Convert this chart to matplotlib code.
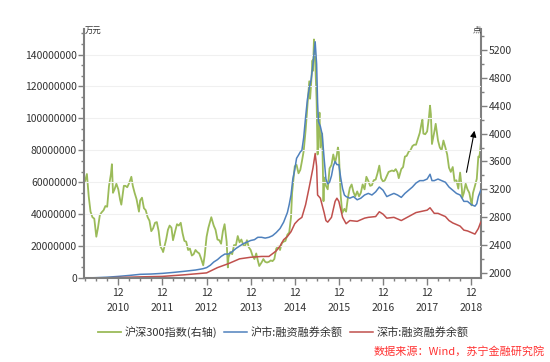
import matplotlib
matplotlib.use('Agg')
import matplotlib.pyplot as plt
import pandas as pd
from matplotlib.ticker import MultipleLocator, FuncFormatter

plt.rcParams['font.family'] = ['Noto Sans CJK SC', 'DejaVu Sans']

# ---------------- data ----------------
hs_dates = [
    "2010-03-31", "2010-04-15", "2010-04-30", "2010-05-15", "2010-05-31", "2010-06-15", "2010-07-02",
    "2010-07-15", "2010-07-31", "2010-08-15", "2010-08-31", "2010-09-15", "2010-09-30", "2010-10-15",
    "2010-10-31", "2010-11-08", "2010-11-17", "2010-11-30", "2010-12-15", "2010-12-31",
    "2011-01-15", "2011-01-25", "2011-02-15", "2011-02-28", "2011-03-15", "2011-03-31", "2011-04-18",
    "2011-04-30", "2011-05-15", "2011-05-31", "2011-06-20", "2011-06-30", "2011-07-15", "2011-07-31",
    "2011-08-15", "2011-08-31", "2011-09-15", "2011-09-30", "2011-10-15", "2011-10-31", "2011-11-15",
    "2011-11-30", "2011-12-15", "2011-12-31",
    "2012-01-06", "2012-01-31", "2012-02-15", "2012-02-29", "2012-03-15", "2012-03-28", "2012-04-15",
    "2012-04-30", "2012-05-15", "2012-05-31", "2012-06-15", "2012-06-30", "2012-07-15", "2012-07-31",
    "2012-08-15", "2012-08-31", "2012-09-15", "2012-09-30", "2012-10-15", "2012-10-31", "2012-11-15",
    "2012-12-03", "2012-12-15", "2012-12-31",
    "2013-01-15", "2013-01-31", "2013-02-08", "2013-02-28", "2013-03-15", "2013-03-31", "2013-04-15",
    "2013-04-30", "2013-05-15", "2013-05-29", "2013-06-15", "2013-06-25", "2013-06-30", "2013-07-15",
    "2013-07-31", "2013-08-15", "2013-08-31", "2013-09-15", "2013-09-30", "2013-10-15", "2013-10-31",
    "2013-11-15", "2013-11-30", "2013-12-15", "2013-12-31",
    "2014-01-15", "2014-01-31", "2014-02-15", "2014-02-28", "2014-03-12", "2014-03-31", "2014-04-15",
    "2014-04-30", "2014-05-15", "2014-05-31", "2014-06-15", "2014-06-30", "2014-07-15", "2014-07-31",
    "2014-08-15", "2014-08-31", "2014-09-15", "2014-09-30", "2014-10-15", "2014-10-31", "2014-11-15",
    "2014-11-30", "2014-12-09", "2014-12-31",
    "2015-01-15", "2015-01-31", "2015-02-15", "2015-02-28", "2015-03-15", "2015-03-31", "2015-04-15",
    "2015-04-30", "2015-05-07", "2015-05-15", "2015-05-27", "2015-05-31", "2015-06-08", "2015-06-15",
    "2015-06-30", "2015-07-08", "2015-07-15", "2015-07-24", "2015-07-31", "2015-08-15", "2015-08-26",
    "2015-08-31", "2015-09-15", "2015-09-30", "2015-10-15", "2015-10-31", "2015-11-15", "2015-11-30",
    "2015-12-15", "2015-12-23", "2015-12-31",
    "2016-01-15", "2016-01-28", "2016-02-15", "2016-02-29", "2016-03-15", "2016-03-31", "2016-04-15",
    "2016-04-30", "2016-05-15", "2016-05-31", "2016-06-15", "2016-06-30", "2016-07-15", "2016-07-31",
    "2016-08-15", "2016-08-31", "2016-09-15", "2016-09-30", "2016-10-15", "2016-10-31", "2016-11-15",
    "2016-11-30", "2016-12-15", "2016-12-31",
    "2017-01-15", "2017-01-31", "2017-02-15", "2017-02-28", "2017-03-15", "2017-03-31", "2017-04-15",
    "2017-04-30", "2017-05-10", "2017-05-31", "2017-06-15", "2017-06-30", "2017-07-15", "2017-07-31",
    "2017-08-15", "2017-08-31", "2017-09-15", "2017-09-30", "2017-10-15", "2017-10-31", "2017-11-15",
    "2017-11-22", "2017-11-30", "2017-12-15", "2017-12-31",
    "2018-01-15", "2018-01-24", "2018-01-31", "2018-02-09", "2018-02-28", "2018-03-12", "2018-03-31",
    "2018-04-15", "2018-04-30", "2018-05-15", "2018-05-31", "2018-06-15", "2018-06-30", "2018-07-15",
    "2018-07-31", "2018-08-15", "2018-08-31", "2018-09-15", "2018-09-30", "2018-10-15", "2018-10-18",
    "2018-10-31", "2018-11-15", "2018-11-30", "2018-12-15", "2018-12-31",
    "2019-01-03", "2019-01-15", "2019-01-31", "2019-02-15", "2019-02-28", "2019-03-08", "2019-03-15",
    "2019-03-20",
]
hs_vals = [
    3320, 3420, 3100, 2880, 2800, 2780, 2520,
    2640, 2830, 2870, 2900, 2960, 2950, 3250,
    3420, 3560, 3150, 3200, 3280, 3200,
    3050, 2980, 3250, 3250, 3230, 3290, 3380,
    3250, 3150, 3060, 2880, 3040, 3080, 2930,
    2900, 2800, 2750, 2600, 2640, 2720, 2730,
    2600, 2380, 2330,
    2300, 2480, 2620, 2680, 2650, 2470, 2600,
    2700, 2680, 2720, 2570, 2460, 2450, 2330,
    2350, 2250, 2270, 2330, 2300, 2280, 2210,
    2110, 2250, 2520,
    2650, 2750, 2800, 2680, 2620, 2480, 2470,
    2420, 2600, 2700, 2450, 2080, 2220, 2300,
    2270, 2400, 2400, 2530, 2440, 2480, 2400,
    2390, 2470, 2370, 2330,
    2250, 2200, 2280, 2180, 2100, 2150, 2200,
    2160, 2150, 2160, 2180, 2170, 2200, 2350,
    2380, 2330, 2430, 2450, 2460, 2550, 2580,
    2800, 3150, 3530,
    3550, 3430, 3480, 3600, 3750, 4050, 4400,
    4750, 4500, 4700, 5050, 4900, 5350, 5200,
    4470, 3700, 4000, 4300, 3800, 4000, 3030,
    3370, 3250, 3200, 3500, 3550, 3700, 3580,
    3700, 3800, 3730,
    3120, 2860, 2920, 2880, 3080, 3220, 3270,
    3160, 3100, 3170, 3100, 3150, 3270, 3200,
    3380, 3320, 3250, 3260, 3330, 3340, 3430,
    3540, 3360, 3310,
    3330, 3390, 3450, 3460, 3470, 3460, 3490,
    3440, 3360, 3490, 3520, 3670, 3680, 3740,
    3760, 3820, 3840, 3840, 3920, 4010, 4150,
    4200, 4000, 3990, 4030,
    4230, 4400, 4280, 3850, 4020, 4140, 3900,
    3800, 3760, 3900, 3800, 3700, 3510, 3450,
    3520, 3320, 3330, 3210, 3440, 3200, 3080,
    3150, 3280, 3200, 3150, 3010,
    2970, 3150, 3250, 3350, 3670, 3660, 3750,
    3850,
]

sh_dates = [
    "2010-03-31", "2010-06-30", "2010-09-30", "2010-12-31", "2011-03-31", "2011-06-30", "2011-09-30",
    "2011-12-31", "2012-03-31", "2012-06-30", "2012-09-30", "2012-11-30", "2012-12-31",
    "2013-01-31", "2013-02-28", "2013-03-31", "2013-04-30", "2013-05-31", "2013-06-30", "2013-07-31",
    "2013-08-31", "2013-09-30", "2013-10-31", "2013-11-30", "2013-12-31",
    "2014-01-31", "2014-02-28", "2014-03-31", "2014-04-30", "2014-05-31", "2014-06-30", "2014-07-31",
    "2014-08-31", "2014-09-30", "2014-10-31", "2014-11-15", "2014-11-30", "2014-12-15", "2014-12-31",
    "2015-01-15", "2015-01-31", "2015-02-15", "2015-02-28", "2015-03-15", "2015-03-31", "2015-04-15",
    "2015-04-30", "2015-05-15", "2015-05-31", "2015-06-18", "2015-06-30", "2015-07-08", "2015-07-15",
    "2015-07-31", "2015-08-15", "2015-08-31", "2015-09-15", "2015-09-30", "2015-10-15", "2015-10-31",
    "2015-11-15", "2015-11-30", "2015-12-15", "2015-12-31",
    "2016-01-15", "2016-01-31", "2016-02-15", "2016-02-29", "2016-03-31", "2016-04-30", "2016-05-31",
    "2016-06-30", "2016-07-31", "2016-08-31", "2016-09-30", "2016-10-31", "2016-11-30", "2016-12-31",
    "2017-01-31", "2017-02-28", "2017-03-31", "2017-04-30", "2017-05-31", "2017-06-30", "2017-07-31",
    "2017-08-31", "2017-09-30", "2017-10-31", "2017-11-30", "2017-12-31",
    "2018-01-24", "2018-02-09", "2018-02-28", "2018-03-31", "2018-04-30", "2018-05-31", "2018-06-30",
    "2018-07-31", "2018-08-31", "2018-09-30", "2018-10-31", "2018-11-30", "2018-12-31",
    "2019-01-31", "2019-02-15", "2019-02-28", "2019-03-20",
]
sh_vals = [
    0, 200000, 500000, 1000000, 1600000, 2300000, 2500000,
    2900000, 3500000, 4200000, 5000000, 5800000, 6500000,
    8000000, 10000000, 11500000, 13500000, 15000000, 15000000, 16500000,
    18500000, 20000000, 21500000, 22500000, 23500000,
    24000000, 25500000, 25500000, 25000000, 25500000, 26500000, 28500000,
    31000000, 35000000, 41000000, 46000000, 52000000, 62000000, 68000000,
    75000000, 77000000, 79000000, 80000000, 88000000, 101000000, 112000000,
    119000000, 124000000, 134000000, 148000000, 134000000, 110000000, 98000000,
    95000000, 90000000, 75000000, 62000000, 59000000, 60000000, 64000000,
    70000000, 73000000, 71000000, 71000000,
    63000000, 56000000, 52000000, 51000000, 50000000, 51000000, 49000000,
    50000000, 52000000, 53000000, 52000000, 54000000, 57000000, 55000000,
    51000000, 52000000, 53000000, 52000000, 50500000, 53000000, 55000000,
    57000000, 59500000, 61000000, 61000000, 62000000,
    65000000, 61000000, 61000000, 62000000, 61000000, 60000000, 57000000,
    55000000, 53000000, 52000000, 48000000, 48000000, 46000000,
    45000000, 46500000, 51000000, 55000000,
]

sz_dates = [
    "2010-03-31", "2010-06-30", "2010-09-30", "2010-12-31", "2011-06-30", "2011-12-31", "2012-06-30",
    "2012-12-31", "2013-03-31", "2013-06-30", "2013-09-30", "2013-12-31", "2014-03-31", "2014-05-31",
    "2014-07-31", "2014-08-31", "2014-09-30", "2014-10-31", "2014-11-30", "2014-12-31",
    "2015-01-31", "2015-02-28", "2015-03-31", "2015-04-30", "2015-05-31", "2015-06-18", "2015-06-30",
    "2015-07-08", "2015-07-31", "2015-08-31", "2015-09-15", "2015-09-30", "2015-10-31", "2015-11-30",
    "2015-12-15", "2015-12-31",
    "2016-01-31", "2016-02-29", "2016-03-31", "2016-05-31", "2016-07-31", "2016-08-31", "2016-10-31",
    "2016-11-30", "2016-12-31",
    "2017-01-31", "2017-03-31", "2017-05-31", "2017-07-31", "2017-09-30", "2017-11-30", "2017-12-31",
    "2018-01-24", "2018-02-28", "2018-03-31", "2018-04-30", "2018-05-31", "2018-06-30", "2018-07-31",
    "2018-08-31", "2018-09-30", "2018-10-31", "2018-11-30", "2018-12-31",
    "2019-01-31", "2019-02-28", "2019-03-20",
]
sz_vals = [
    0, 80000, 150000, 300000, 700000, 1000000, 2000000,
    3200000, 6500000, 9000000, 12000000, 13000000, 13500000, 13500000,
    17000000, 20000000, 24000000, 26000000, 29000000, 34000000,
    36500000, 38000000, 46000000, 57000000, 69000000, 78000000, 70000000,
    52000000, 50000000, 41000000, 36000000, 35000000, 38000000, 48000000,
    50000000, 48000000,
    38000000, 34000000, 36000000, 35500000, 37500000, 38000000, 38500000,
    41500000, 40000000,
    37500000, 38000000, 36000000, 38500000, 41000000, 42000000, 42500000,
    44000000, 40500000, 40500000, 39500000, 38500000, 36000000, 34500000,
    33500000, 32500000, 30000000, 29500000, 28500000,
    27500000, 31000000, 35000000,
]

years = [2010, 2011, 2012, 2013, 2014, 2015, 2016, 2017, 2018]
labels = ["沪深300指数(右轴)", "沪市:融资融券余额", "深市:融资融券余额"]
colors = ["#9BBB59", "#4F81BD", "#C0504D"]

# ---------------- plot ----------------
W, H = 550, 362
fig = plt.figure(figsize=(W / 100, H / 100), dpi=100)
L, R, B, T = 84, 481, 278, 29
ax = fig.add_axes([L / W, 1 - B / H, (R - L) / W, (B - T) / H])
ax2 = ax.twinx()
ax.set_zorder(ax2.get_zorder() + 1)
ax.patch.set_visible(False)

g, = ax2.plot(pd.to_datetime(hs_dates), hs_vals, color=colors[0], lw=1.3)
b, = ax.plot(pd.to_datetime(sh_dates), sh_vals, color=colors[1], lw=1.1)
r, = ax.plot(pd.to_datetime(sz_dates), sz_vals, color=colors[2], lw=1.1)

ax.set_xlim(pd.Timestamp("2010-03-22"), pd.Timestamp("2019-03-22"))
ax.set_ylim(0, 156e6)
ax2.set_ylim(1928, 5500)

spine_c = "#7f7f7f"
for a in (ax, ax2):
    a.spines["top"].set_visible(False)
ax.spines["right"].set_visible(False)
ax2.spines["left"].set_visible(False)
ax2.spines["bottom"].set_visible(False)
for s in (ax.spines["left"], ax.spines["bottom"], ax2.spines["right"]):
    s.set_color(spine_c)
    s.set_linewidth(1.5)

ax.yaxis.set_major_locator(MultipleLocator(20e6))
ax.yaxis.set_minor_locator(MultipleLocator(20e6 / 3))
ax.yaxis.set_major_formatter(FuncFormatter(lambda v, p: f"{int(round(v))}"))
ax2.yaxis.set_major_locator(MultipleLocator(400))
ax2.yaxis.set_minor_locator(MultipleLocator(200))

major_x = [pd.Timestamp(f"{y}-12-31") for y in years]
minor_x = [pd.Timestamp(f"{y}-{m:02d}-{d}") for y in years + [2019]
           for m, d in ((3, 31), (6, 30), (9, 30)) if pd.Timestamp(f"{y}-{m:02d}-{d}") < pd.Timestamp("2019-03-22")]
ax.set_xticks(major_x)
ax.set_xticklabels([f"12\n{y}" for y in years], linespacing=1.6)
ax.set_xticks(minor_x, minor=True)

tc = "#333333"
ax.tick_params(axis="x", which="major", length=5, width=1, color=spine_c, labelsize=7.5, labelcolor=tc, pad=2)
ax.tick_params(axis="x", which="minor", length=2.5, width=1, color=spine_c)
ax.tick_params(axis="y", which="major", length=4, width=1, color=spine_c, labelsize=7.5, labelcolor=tc, pad=1)
ax.tick_params(axis="y", which="minor", length=2.5, width=1, color=spine_c)
ax2.tick_params(axis="y", which="major", length=4, width=1, color=spine_c, labelsize=7.5, labelcolor=tc, pad=1.5)
ax2.tick_params(axis="y", which="minor", length=2.5, width=1, color=spine_c)

ax.grid(axis="y", which="major", color="#f0f0f0", lw=0.8)
ax.set_axisbelow(True)

fig.text(85 / W, 1 - 30 / H, "万元", fontsize=6, color=tc, ha="left", va="center")
fig.text(481 / W, 1 - 30 / H, "点", fontsize=6, color=tc, ha="right", va="center")

fig.legend(handles=[g, b, r], labels=labels, loc="center", bbox_to_anchor=(283 / W, 1 - 332 / H),
           ncol=3, frameon=False, fontsize=8, handlelength=2.1, columnspacing=0.65,
           handletextpad=0.28, labelcolor=tc, borderpad=0, borderaxespad=0)

fig.text(545 / W, 1 - 351 / H, "数据来源：Wind，苏宁金融研究院", fontsize=8, color="#FF3333",
         ha="right", va="center", style="italic")

ax.annotate("", xy=(475 / W, 1 - 128 / H), xytext=(466 / W, 1 - 175 / H),
            xycoords="figure fraction", textcoords="figure fraction",
            arrowprops=dict(arrowstyle="-|>", color="black", lw=0.8, mutation_scale=9))

fig.savefig("out.png", dpi=100)
